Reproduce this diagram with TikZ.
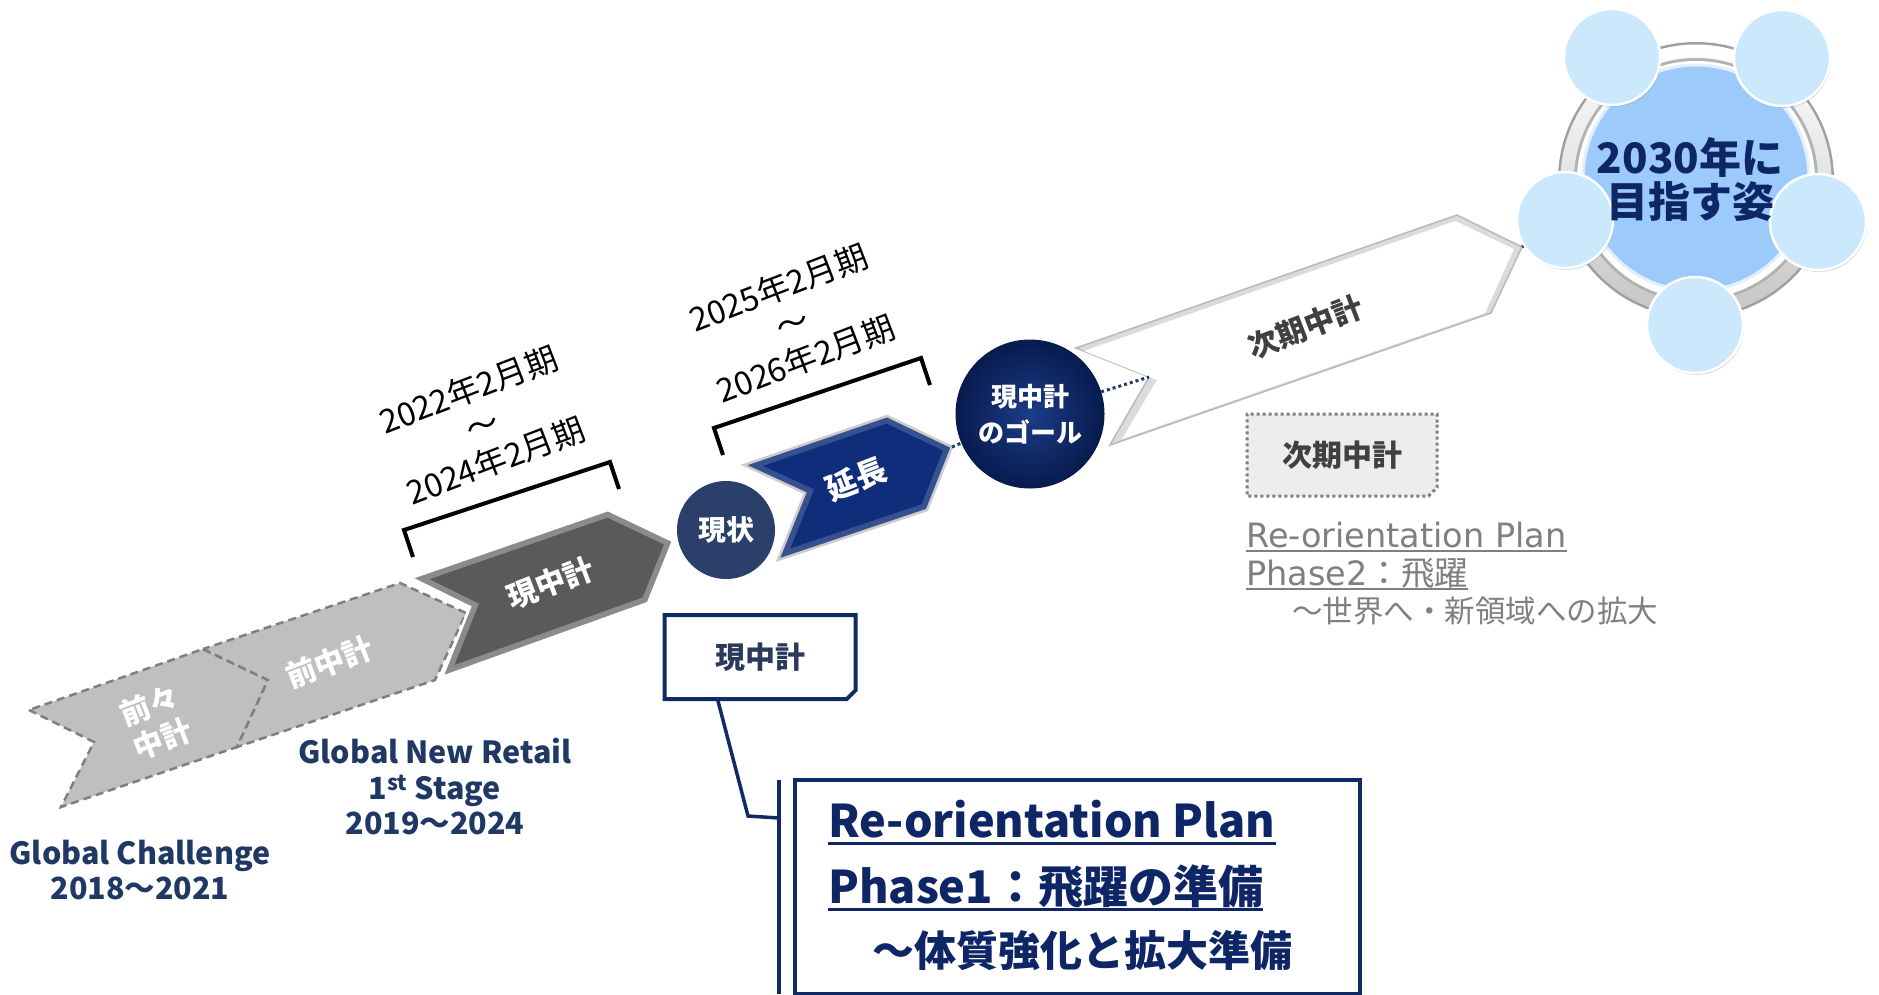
\documentclass[tikz,border=0pt]{standalone}
\usepackage{fontspec}
\setmainfont{Noto Sans CJK JP}
\newfontfamily\dvs{DejaVu Sans}
\usetikzlibrary{shapes.misc,calc,shadows,shadings}
\definecolor{navy}{HTML}{0E2566}
\definecolor{navytxt}{HTML}{1F3864}
\definecolor{chevgray}{HTML}{BFBFBF}
\definecolor{dashgray}{HTML}{7F7F7F}
\definecolor{darkchev}{HTML}{5A5A5A}
\definecolor{bluechev}{HTML}{0F2D7A}
\definecolor{genjocol}{HTML}{2B3F6B}
\definecolor{goalin}{HTML}{1C3D88}
\definecolor{goalout}{HTML}{071B4E}
\definecolor{boxnavy}{HTML}{102A63}
\definecolor{greytxt}{HTML}{7F7F7F}
\definecolor{darktxt}{HTML}{404040}
\definecolor{satblue}{HTML}{CCE8FC}
\definecolor{bigblue}{HTML}{9CCBFB}
\definecolor{dotnavy}{HTML}{1F3A6B}
\definecolor{boxtxt}{HTML}{2B3A5A}
\definecolor{lightbox}{HTML}{EDEDED}
\newcommand\fsz[2]{\fontsize{#1}{#2}\selectfont}
\newcommand\bevel[4]{%
  \fill[#2] #1;
  \begin{scope}\clip #1; \draw[line width=14pt, line join=miter, #3] #1; \end{scope}
  \draw[line join=miter, #4] #1;}
\begin{document}
\begin{tikzpicture}[x=1pt,y=-1pt,
  chevlab/.style={text=white, font=\bfseries\fsz{30}{36}, rotate=21, align=center, inner sep=0pt},
  datelab/.style={font=\fsz{32.5}{38}, rotate=21, align=center, inner sep=0pt},
  bracketline/.style={line width=4pt, line join=miter},
  dotline/.style={dotnavy, line width=3pt, dash pattern=on 3pt off 3pt},
  navylab/.style={text=navytxt, font=\bfseries\fsz{30.5}{35.5}, align=center, inner sep=0pt},
  greychev/.style={fill=chevgray, draw=dashgray, line width=2.5pt, dash pattern=on 8pt off 5pt, line join=miter},
  sat/.style={circle, minimum size=96pt, inner sep=0pt, fill=satblue, draw=white, line width=2.5pt,
    drop shadow={shadow xshift=1pt, shadow yshift=-2pt, opacity=0.3, fill=gray}},
  bigtxt/.style={anchor=base west, inner sep=0pt, text=navy, font=\bfseries\fsz{45}{50}},
  greyline/.style={anchor=base west, inner sep=0pt, text=greytxt, font=\fsz{33.5}{36}}
]
\useasboundingbox (0,0) rectangle (1879,994);

% grey dashed chevrons
\path[greychev] (29,710) -- (94,742) -- (61,807) -- (237,747) -- (268,680) -- (203,649) -- cycle;
\path[greychev] (203,649) -- (268,680) -- (237,747) -- (435,680) -- (466,613) -- (400,583) -- cycle;

% dark chevron
\bevel{(411,578) -- (470,607) -- (442,677) -- (648,603) -- (673,541) -- (608,510) -- cycle}{darkchev}{white, opacity=0.3}{white, line width=2.5pt}
% blue chevron
\bevel{(744,465) -- (805,493) -- (778,560) -- (927,510) -- (952,447) -- (887,416) -- cycle}{bluechev}{white, opacity=0.17}{gray!40, line width=2.5pt}
% white chevron
\bevel{(1076,348) -- (1149,377) -- (1110,445) -- (1491,313) -- (1522,247) -- (1457,215) -- cycle}{gray!28}{gray!28}{gray!55, line width=1.5pt}
\fill[white] (1084,351) -- (1157,380) -- (1122,439) -- (1485,313) -- (1514,249) -- (1455,221) -- cycle;

\coordinate (entip) at (952,447);
\coordinate (jinotch) at (1149,377);
\coordinate (jitip) at (1522,247);

% brackets
\draw[bracketline] (413,557) -- (404,530) -- (610,462) -- (619,489);
\draw[bracketline] (723,455) -- (714,428) -- (921,358) -- (930,385);

% date labels
\node[datelab] (d1) at (482,425) {2022年2月期\\～\\2024年2月期};
\node[datelab] (d2) at (792,323) {2025年2月期\\～\\2026年2月期};

% chevron labels
\node[chevlab] (l1) at (156,722) {前々\\中計};
\node[chevlab] (l2) at (329,662) {前中計};
\node[chevlab] (l3) at (550,583) {現中計};
\node[chevlab, font=\bfseries\fsz{31}{36}] (l4) at (856,479) {延長};
\node[chevlab, text=darktxt] (l5) at (1305,327) {次期中計};

% circles
\node[circle, fill=genjocol, minimum size=98pt, inner sep=0pt, text=white, font=\bfseries\fsz{28}{30}] (genjo) at (726,530) {現状};
\node[circle, minimum size=148pt, inner sep=0pt, inner color=goalin, outer color=goalout, draw=goalout, line width=1pt, text=white, font=\bfseries\fsz{26}{36}, align=center] (goal) at (1030,414) {現中計\\のゴール};

% big vision group
\coordinate (vc) at (1696,180);
\fill[gray!75] (vc) circle[radius=138pt];
\shade[top color=white, bottom color=gray!45] (vc) circle[radius=135.5pt];
\fill[gray!60] (vc) circle[radius=122pt];
\fill[white] (vc) circle[radius=119pt];
\node[circle, minimum size=226pt, inner sep=0pt, fill=bigblue, draw=white!70!bigblue, line width=3pt] (vision) at (1696,178) {};

\node[sat] (satTL) at (1612,57) {};
\node[sat] (satTR) at (1782,58) {};
\node[sat] (satL) at (1565,220) {};
\node[sat] (satR) at (1818,222) {};
\node[sat] (satB) at (1695,325) {};

\node[text=navy, font=\bfseries\fsz{42}{44}, align=center, inner sep=0pt] (visiontxt) at (1690,179) {2030年に\\目指す姿};

% dotted connectors
\draw[dotline] (entip) -- (goal);
\draw[dotline] (goal) -- (jinotch);
\draw[dotline] (jitip) -- (satL);

% next plan box
\node[chamfered rectangle, chamfered rectangle corners=south east, chamfered rectangle xsep=5pt,
  draw=dashgray, line width=3pt, dash pattern=on 3pt off 3pt, fill=lightbox,
  minimum width=190pt, minimum height=82pt, inner sep=0pt, text=darktxt, font=\bfseries\fsz{30}{34}] (nextbox) at (1342,455) {次期中計};

\node[greyline] (np1) at (1246,547) {\dvs Re-orientation Plan};
\draw[greytxt, line width=2pt] ([yshift=-4pt]np1.base west) -- ([yshift=-4pt]np1.base east);
\node[greyline] (np2) at (1246,585) {{\dvs Phase2}：飛躍};
\draw[greytxt, line width=2pt] ([yshift=-4pt]np2.base west) -- ([yshift=-4pt]np2.base east);
\node[greyline, font=\fsz{30.5}{36}] (np3) at (1292,622) {～世界へ・新領域への拡大};

% labels below
\node[navylab] (gnr) at (435,787) {Global New Retail\\1\textsuperscript{st} Stage\\2019～2024};
\node[navylab] (gc) at (140,870) {Global Challenge\\2018～2021};

% current plan box and callout
\node[chamfered rectangle, chamfered rectangle corners=south east, chamfered rectangle xsep=5pt,
  draw=boxnavy, line width=4pt, fill=white, minimum width=191pt, minimum height=84pt, inner sep=0pt,
  text=boxtxt, font=\bfseries\fsz{30}{32}] (genbox) at (760,657) {現中計};
\node[draw=boxnavy, line width=4pt, fill=white, minimum width=565pt, minimum height=214pt, anchor=north west, inner sep=0pt] (bigbox) at (793,778) {};
\coordinate (callA) at ($(genbox.south west)!0.29!(genbox.south east)$);
\coordinate (callB) at (748,816);
\coordinate (callC) at (779,818);
\coordinate (bartop) at (779,780);
\coordinate (barbot) at (779,994);
\draw[boxnavy, line width=3.5pt, line join=miter] (callA) -- (callB) -- (callC);
\draw[boxnavy, line width=3.5pt] (bartop) -- (barbot);

\node[bigtxt] (rp1) at (828,837) {Re-orientation Plan};
\draw[navy, line width=3pt] ([yshift=-6pt]rp1.base west) -- ([yshift=-6pt]rp1.base east);
\node[bigtxt] (rp2) at (828,903) {Phase1：飛躍の準備};
\draw[navy, line width=3pt] ([yshift=-6pt]rp2.base west) -- ([yshift=-6pt]rp2.base east);
\node[bigtxt, font=\bfseries\fsz{42}{50}] (rp3) at (872,966) {～体質強化と拡大準備};
\end{tikzpicture}
\end{document}
